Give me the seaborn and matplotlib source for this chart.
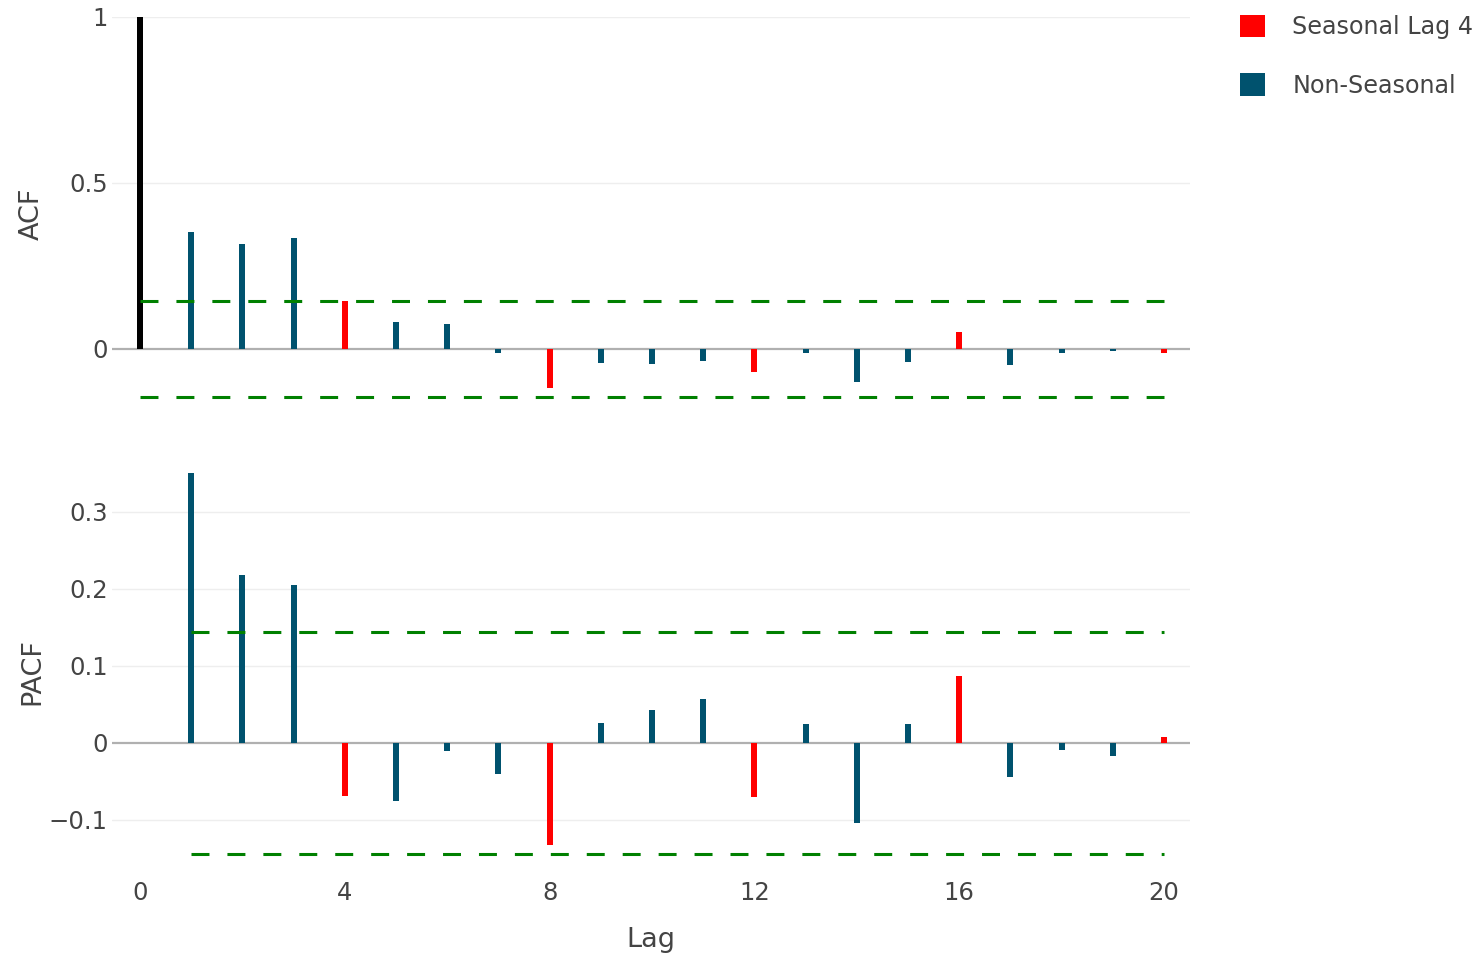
import numpy as np
import pandas as pd
import matplotlib
matplotlib.use("Agg")
import matplotlib.pyplot as plt
from matplotlib.patches import Patch
import seaborn as sns

lags = list(range(0, 21))
acf_vals = [1.0, 0.352, 0.316, 0.334, 0.145, 0.081, 0.075, -0.012, -0.117, -0.042,
            -0.045, -0.036, -0.069, -0.012, -0.099, -0.039, 0.051, -0.048, -0.012,
            -0.006, -0.012]
pacf_lags = list(range(1, 21))
pacf_vals = [0.351, 0.218, 0.205, -0.069, -0.075, -0.010, -0.040, -0.133, 0.026,
             0.043, 0.057, -0.070, 0.025, -0.104, 0.025, 0.087, -0.044, -0.009,
             -0.017, 0.008]
conf = 0.1445
season = 4
x_ticks = [0, 4, 8, 12, 16, 20]
acf_ticks = [0, 0.5, 1]
acf_tick_labels = ["0", "0.5", "1"]
pacf_ticks = [-0.1, 0, 0.1, 0.2, 0.3]
pacf_tick_labels = ["\u22120.1", "0", "0.1", "0.2", "0.3"]

RED = "#FF0000"
TEAL = "#00526E"
GREEN = "#008000"
TXT = "#444444"


def kind(l):
    if l == 0:
        return "Lag 0"
    if l % season == 0:
        return "Seasonal Lag 4"
    return "Non-Seasonal"


acf_df = pd.DataFrame({"lag": lags, "value": acf_vals})
acf_df["kind"] = acf_df["lag"].map(kind)
pacf_df = pd.DataFrame({"lag": pacf_lags, "value": pacf_vals})
pacf_df["kind"] = pacf_df["lag"].map(kind)
palette = {"Lag 0": "#000000", "Seasonal Lag 4": RED, "Non-Seasonal": TEAL}

sns.set_theme(style="white")
plt.rcParams["font.family"] = ["DejaVu Sans"]

W, H = 1482, 955
fig = plt.figure(figsize=(W / 100, H / 100), dpi=100)
left, right = 112 / W, 1190 / W
ax1 = fig.add_axes([left, 1 - 410 / H, right - left, (410 - 17) / H])
ax2 = fig.add_axes([left, 1 - 870 / H, right - left, (870 - 473) / H])

for ax, df, ylim in [(ax1, acf_df, (-0.184, 1.0)), (ax2, pacf_df, (-0.165, 0.3506))]:
    sns.barplot(data=df, x="lag", y="value", hue="kind", palette=palette,
                native_scale=True, dodge=False, width=0.115, errorbar=None,
                legend=False, ax=ax, linewidth=0, saturation=1, zorder=3)
    ax.set_xlim(-0.547, 20.508)
    ax.set_ylim(*ylim)
    for s in ax.spines.values():
        s.set_visible(False)
    ax.grid(False)
    ax.axhline(0, color="#b0b0b0", lw=1.6, zorder=2)
    ax.tick_params(axis="both", length=0, labelsize=17.5, labelcolor=TXT, pad=3)
    ax.set_xlabel("")

DASH = (5.88, 5.88)
ax1.plot([lags[0], lags[-1]], [conf, conf], color=GREEN, lw=2.2, dashes=DASH, zorder=4)
ax1.plot([lags[0], lags[-1]], [-conf, -conf], color=GREEN, lw=2.2, dashes=DASH, zorder=4)
ax2.plot([pacf_lags[0], pacf_lags[-1]], [conf, conf], color=GREEN, lw=2.2, dashes=DASH, zorder=4)
ax2.plot([pacf_lags[0], pacf_lags[-1]], [-conf, -conf], color=GREEN, lw=2.2, dashes=DASH, zorder=4)

for t in acf_ticks:
    if t != 0:
        ax1.axhline(t, color="#eeeeee", lw=1, zorder=1)
for t in pacf_ticks:
    if t != 0:
        ax2.axhline(t, color="#eeeeee", lw=1, zorder=1)

ax1.set_yticks(acf_ticks)
ax1.set_yticklabels(acf_tick_labels)
ax1.set_xticks([])
ax2.set_yticks(pacf_ticks)
ax2.set_yticklabels(pacf_tick_labels)
ax2.tick_params(axis="x", pad=8)
ax2.set_xticks(x_ticks)
ax2.set_xticklabels([str(t) for t in x_ticks])

ax1.set_ylabel("ACF", fontsize=19.5, color=TXT)
ax2.set_ylabel("PACF", fontsize=19.5, color=TXT)
ax2.set_xlabel("Lag", fontsize=19.5, color=TXT, labelpad=16)
ax1.yaxis.set_label_coords(-(112 - 45) / (1190 - 112), 0.5)
ax2.yaxis.set_label_coords(-(112 - 45) / (1190 - 112), 0.5)

handles = [Patch(facecolor=RED, edgecolor="none", label="Seasonal Lag 4"),
           Patch(facecolor=TEAL, edgecolor="none", label="Non-Seasonal")]
leg = fig.legend(handles=handles, loc="upper left", bbox_to_anchor=(1230.5 / W, 1 - 5 / H),
                 frameon=False, fontsize=17.2, handlelength=1.05, handleheight=1.05,
                 handletextpad=1.13, labelspacing=1.45, borderaxespad=0)
for t in leg.get_texts():
    t.set_color(TXT)

fig.savefig("out.png", dpi=100)
